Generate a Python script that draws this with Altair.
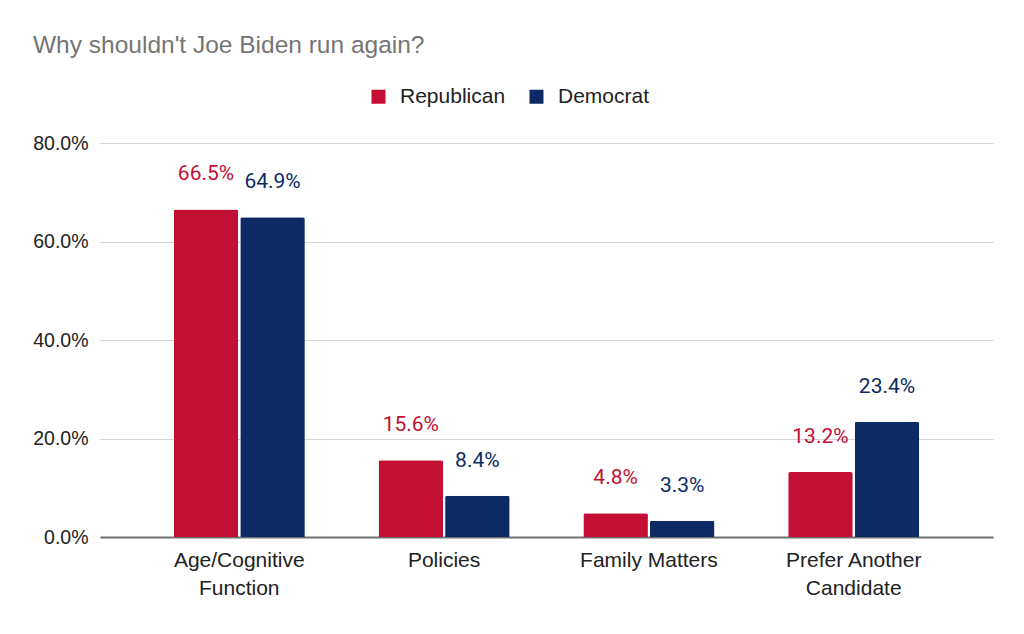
import altair as alt
import pandas as pd

categories = ["Age/Cognitive Function", "Policies", "Family Matters", "Prefer Another Candidate"]
parties = ["Republican", "Democrat"]
republican = [66.5, 15.6, 4.8, 13.2]
democrat = [64.9, 8.4, 3.3, 23.4]
colors = ["#C20F33", "#0C2A63"]
y_ticks = [0, 20, 40, 60, 80]

rows = []
for c, r, d in zip(categories, republican, democrat):
    rows.append({"category": c, "party": "Republican", "value": r})
    rows.append({"category": c, "party": "Democrat", "value": d})
df = pd.DataFrame(rows)

x_enc = alt.X(
    "category:N",
    sort=categories,
    title=None,
    scale=alt.Scale(paddingInner=0.36, paddingOuter=0.36),
    axis=alt.Axis(
        labelAngle=0,
        labelFont="Liberation Sans",
        labelFontSize=21,
        labelColor="#222222",
        labelLineHeight=28,
        labelPadding=12,
        labelBaseline="top",
        ticks=False,
        domainColor="#6f6f6f",
        domainWidth=2,
        labelExpr="length(datum.label) > 16 ? [slice(datum.label, 0, lastindexof(datum.label, ' ')), slice(datum.label, lastindexof(datum.label, ' ') + 1)] : datum.label",
    ),
)
xoff = alt.XOffset("party:N", sort=parties, scale=alt.Scale(paddingInner=0.03))
y_enc = alt.Y(
    "value:Q",
    title=None,
    scale=alt.Scale(domain=[0, 80], nice=False),
    axis=alt.Axis(
        values=y_ticks,
        labelExpr="format(datum.value, '.1f') + '%'",
        labelFont="Liberation Sans",
        labelFontSize=19.5,
        labelColor="#222222",
        labelPadding=12,
        ticks=False,
        domain=False,
        gridColor="#d4d4d4",
        gridWidth=1,
    ),
)
color_enc = alt.Color(
    "party:N",
    sort=parties,
    scale=alt.Scale(domain=parties, range=colors),
    legend=alt.Legend(
        title=None,
        orient="none",
        direction="horizontal",
        legendX=268,
        legendY=-57,
        symbolType="square",
        symbolSize=196,
        symbolStrokeWidth=0,
        labelFont="Liberation Sans",
        labelFontSize=21,
        labelColor="#222222",
        labelOffset=11,
        columnPadding=20,
    ),
)

base = alt.Chart(df)
bars = base.mark_bar(cornerRadiusTopLeft=2, cornerRadiusTopRight=2).encode(
    x=x_enc, xOffset=xoff, y=y_enc, color=color_enc
)
labels = base.transform_calculate(
    label="format(datum.value, '.1f') + '%'"
).mark_text(dy=-35, baseline="middle", font="Roboto", fontSize=21).encode(
    x=alt.X("category:N", sort=categories),
    xOffset=alt.XOffset("party:N", sort=parties),
    y="value:Q",
    text="label:N",
    color=alt.Color("party:N", sort=parties, legend=None),
)

chart = (
    alt.layer(bars, labels)
    .properties(
        width=893,
        height=394,
        autosize=alt.AutoSizeParams(type="none"),
        padding={"left": 92, "top": 135, "right": 23, "bottom": 89},
        title=alt.TitleParams(
            "Why shouldn't Joe Biden run again?",
            anchor="start",
            frame="group",
            font="Liberation Sans",
            fontSize=24.5,
            fontWeight="normal",
            color="#757575",
            dx=-67,
            offset=28,
        ),
    )
    .configure_view(stroke=None)
)

chart.save("out.html", embed_options={"renderer": "svg", "actions": False})
